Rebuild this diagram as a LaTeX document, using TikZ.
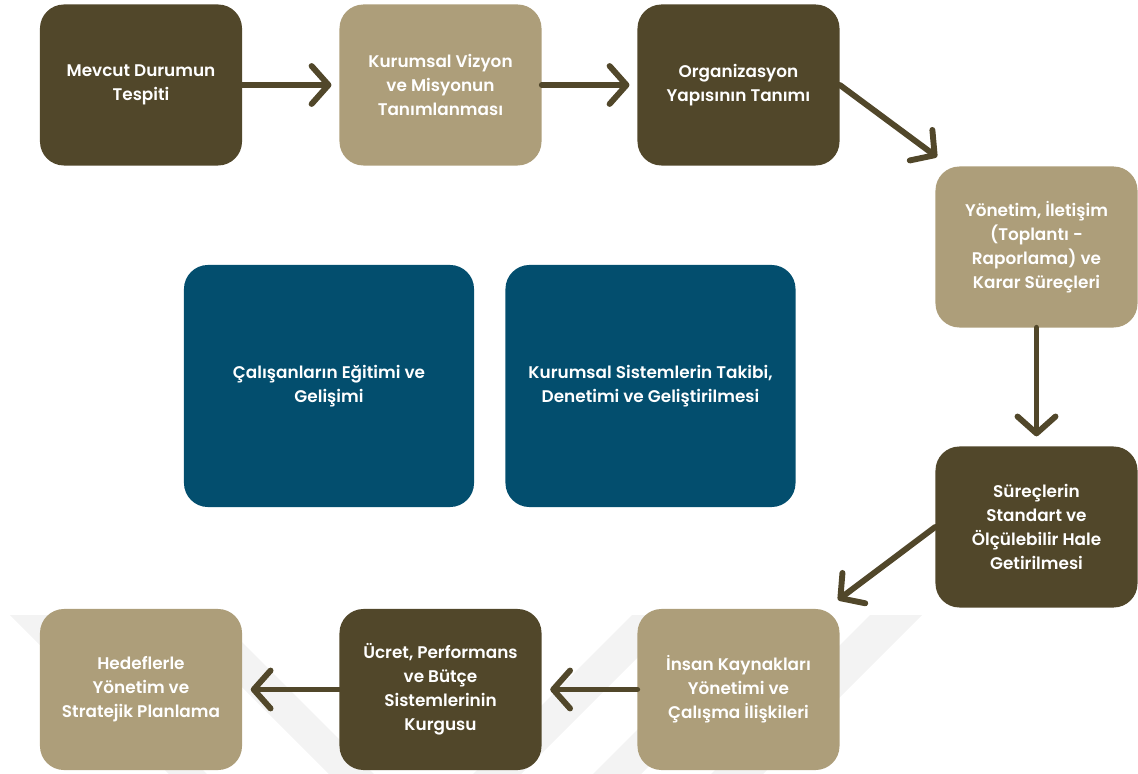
\documentclass[tikz,border=0pt]{standalone}
\usepackage{fontspec}
\setsansfont{Poppins}[BoldFont={* SemiBold}]
\usepackage{tikz}
\usetikzlibrary{arrows.meta,positioning,calc}
\definecolor{umber}{HTML}{51472A}
\definecolor{sand}{HTML}{AD9E7A}
\definecolor{petrol}{HTML}{034E6E}
\definecolor{wmgray}{HTML}{F3F3F3}
\newcommand\boxfont{\fontsize{12}{17}\selectfont}
\tikzset{
  >={Straight Barb[length=12pt,width=27pt,round]},
  flow/.style={->,draw=umber,line width=4.2pt,line cap=round},
  stepbox/.style={rounded corners=0.6cm,minimum width=5.05cm,minimum height=4.025cm,
                  inner sep=0pt,align=center,text=white,font=\sffamily\bfseries\boxfont},
  darkstep/.style={stepbox,fill=umber},
  lightstep/.style={stepbox,fill=sand},
  sidebox/.style={stepbox,fill=petrol,minimum width=7.25cm,minimum height=6.05cm},
  wmark/.style={fill=wmgray,draw=none},
}

\begin{document}
\begin{tikzpicture}[x=0.025cm,y=-0.025cm]
  \useasboundingbox (0,0) rectangle (1138,774);

  % faint watermark bands
  \fill[wmark] (10,615) -- (48,615) -- (207,774) -- (169,774) -- cycle;
  \fill[wmark] (170,615) -- (215,615) -- (374,774) -- (329,774) -- cycle;
  \fill[wmark] (632,615) -- (680,615) -- (521,774) -- (473,774) -- cycle;
  \fill[wmark] (752,615) -- (800,615) -- (641,774) -- (593,774) -- cycle;
  \fill[wmark] (870,615) -- (922,615) -- (763,774) -- (711,774) -- cycle;

  % process steps
  \node[darkstep]  (b1) at (141,85)     {Mevcut Durumun\\Tespiti};
  \node[lightstep] (b2) at (440.5,85)   {Kurumsal Vizyon\\ve Misyonun\\Tanımlanması};
  \node[darkstep]  (b3) at (738.5,85)   {Organizasyon\\Yapısının Tanımı};
  \node[lightstep] (b4) at (1036.5,247) {Yönetim, İletişim\\(Toplantı -\\Raporlama) ve\\Karar Süreçleri};
  \node[darkstep]  (b5) at (1036.5,527) {Süreçlerin\\Standart ve\\Ölçülebilir Hale\\Getirilmesi};
  \node[lightstep] (b6) at (738.5,689.5) {İnsan Kaynakları\\Yönetimi ve\\Çalışma İlişkileri};
  \node[darkstep]  (b7) at (440.5,689.5) {Ücret, Performans\\ve Bütçe\\Sistemlerinin\\Kurgusu};
  \node[lightstep] (b8) at (141,689.5)  {Hedeflerle\\Yönetim ve\\Stratejik Planlama};

  % continuous tasks
  \node[sidebox] (c1) at (329,386)   {Çalışanların Eğitimi ve\\Gelişimi};
  \node[sidebox] (c2) at (650.5,386) {Kurumsal Sistemlerin Takibi,\\Denetimi ve Geliştirilmesi};

  \coordinate (t34) at (937,157);
  \coordinate (t56) at (838,600);

  \draw[flow,shorten >=5.5pt] (b1) -- (b2);
  \draw[flow,shorten >=5.5pt] (b2) -- (b3);
  \draw[flow] (b3.east) -- (t34);
  \draw[flow,shorten >=7pt] (b4) -- (b5);
  \draw[flow] (b5.west) -- (t56);
  \draw[flow,shorten >=6pt] (b6) -- (b7);
  \draw[flow,shorten >=6pt] (b7) -- (b8);
\end{tikzpicture}
\end{document}
